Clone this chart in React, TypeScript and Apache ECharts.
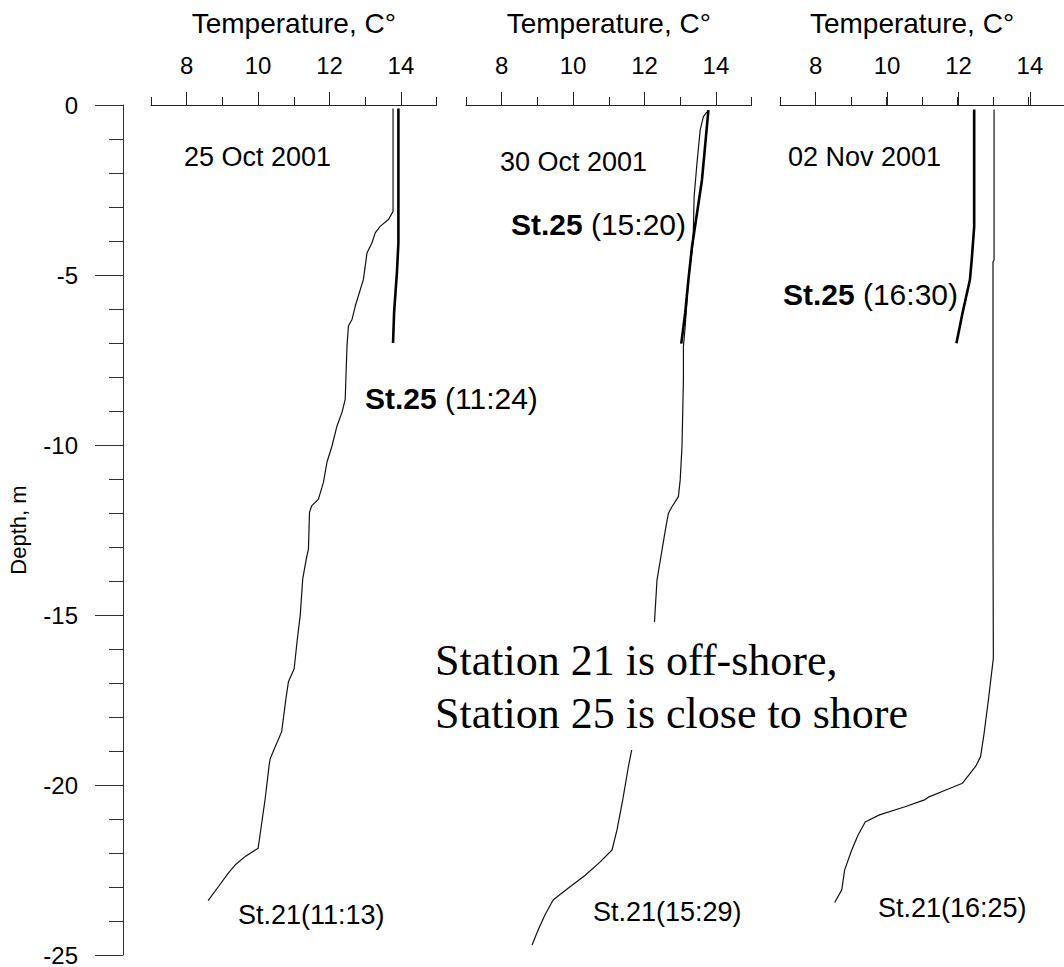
import React, { useEffect, useRef } from "react";
import * as echarts from "echarts";

// Tick values
const tempTickLabels = [8, 10, 12, 14];
const depthTickLabels = [0, -5, -10, -15, -20, -25];

// Panel titles / dates
const panelDates = ["25 Oct 2001", "30 Oct 2001", "02 Nov 2001"];

// 25 Oct 2001 — Station 21 (11:13)
const st21Oct25Temp = [13.78, 13.78, 13.65, 13.42, 13.28, 13.19, 13.05, 12.95, 12.72, 12.63, 12.53, 12.49, 12.44, 12.35, 12.21, 12.07, 11.93, 11.83, 11.69, 11.5, 11.44, 11.41, 11.35, 11.25, 11.18, 11.1, 11.01, 10.85, 10.78, 10.66, 10.34, 10.31, 10.2, 10.05, 10.0, 9.64, 9.38, 9.16, 8.88, 8.6];
const st21Oct25Depth = [-0.1, -3.13, -3.37, -3.57, -3.76, -4.05, -4.35, -5.13, -5.92, -6.31, -6.5, -7.09, -8.66, -9.04, -9.44, -10.03, -10.5, -11.1, -11.59, -11.79, -11.98, -13.06, -13.35, -13.94, -15.01, -15.7, -16.58, -16.96, -17.46, -18.43, -19.22, -19.41, -20.39, -21.5, -21.86, -22.1, -22.33, -22.6, -23.0, -23.4];

// 25 Oct 2001 — Station 25 (11:24)
const st25Oct25Temp = [13.93, 13.93, 13.89, 13.81, 13.78];
const st25Oct25Depth = [-0.1, -4.05, -4.9, -6.1, -7.0];

// 30 Oct 2001 — Station 21 (15:29)
const st21Oct30Temp = [13.75, 13.65, 13.56, 13.47, 13.39, 13.36, 13.23, 13.14, 13.09, 13.09, 13.05, 13.0, 12.95, 12.77, 12.67, 12.6, 12.49, 12.35, 12.28, 12.1, 11.85, 11.64, 11.55, 11.39, 11.23, 11.09, 10.76, 10.34, 9.86, 9.44, 9.21, 9.02, 8.85];
const st21Oct30Depth = [-0.2, -0.34, -0.73, -1.7, -2.69, -4.05, -5.13, -6.5, -7.09, -8.07, -10.03, -11.0, -11.49, -11.79, -11.98, -12.37, -13.06, -13.94, -15.16, -16.5, -17.8, -18.93, -19.41, -20.39, -21.27, -21.86, -22.21, -22.6, -22.98, -23.33, -23.77, -24.21, -24.65];

// 30 Oct 2001 — Station 25 (15:20)
const st25Oct30Temp = [13.79, 13.61, 13.33, 13.23, 13.14, 13.03];
const st25Oct30Depth = [-0.15, -2.2, -4.16, -5.13, -6.1, -7.0];

// 02 Nov 2001 — Station 21 (16:25)
const st21Nov02Temp = [13.03, 13.03, 13.0, 13.0, 13.01, 12.87, 12.75, 12.65, 12.51, 12.14, 11.67, 11.2, 11.07, 10.5, 9.8, 9.4, 9.2, 9.02, 8.82, 8.74, 8.54];
const st21Nov02Depth = [-0.13, -4.55, -4.6, -12.47, -16.23, -17.46, -18.43, -19.12, -19.41, -19.9, -20.1, -20.3, -20.39, -20.6, -20.83, -21.04, -21.42, -21.86, -22.45, -23.03, -23.4];

// 02 Nov 2001 — Station 25 (16:30)
const st25Nov02Temp = [12.47, 12.47, 12.4, 12.35, 12.14, 11.97];
const st25Nov02Depth = [-0.13, -3.57, -4.55, -5.13, -6.11, -6.99];

const zip = (t: number[], d: number[]) => t.map((v, i) => [v, d[i]]);

const SANS = 'Arial, "Liberation Sans", sans-serif';
const SERIF = '"Times New Roman", "Liberation Serif", serif';

const PX_PER_DEG = 35.7;
const PANEL_LEFT = [151, 466, 780];
const TOP = 105;
const HEIGHT = 852;

export default function App() {
  const ref = useRef<HTMLDivElement>(null);

  useEffect(() => {
    if (!ref.current) return;
    const chart = echarts.init(ref.current, undefined, { renderer: "svg" });

    const grids: any[] = [];
    const xAxes: any[] = [];
    const yAxes: any[] = [];

    PANEL_LEFT.forEach((left, p) => {
      // full-range grid (7..15) with the axis line and the short ticks
      grids.push({ left, top: TOP, width: PX_PER_DEG * 8, height: HEIGHT, containLabel: false });
      // labelled grid (8..14) with the long ticks
      grids.push({ left: left + PX_PER_DEG, top: TOP, width: PX_PER_DEG * 6, height: HEIGHT, containLabel: false });

      xAxes.push({
        gridIndex: p * 2,
        type: "value",
        position: "top",
        min: 7,
        max: 15,
        interval: 1,
        axisLine: { show: true, lineStyle: { color: "#222", width: 1 } },
        axisTick: { show: true, inside: false, length: 8, lineStyle: { color: "#222" } },
        axisLabel: { show: false },
        splitLine: { show: false },
        name: "Temperature, C°",
        nameLocation: "middle",
        nameGap: 68,
        nameTextStyle: { fontSize: 28, color: "#000", fontFamily: SANS, padding: p === 2 ? [0, 20, 0, 0] : 0 },
      });
      xAxes.push({
        gridIndex: p * 2 + 1,
        type: "value",
        position: "top",
        min: tempTickLabels[0],
        max: tempTickLabels[tempTickLabels.length - 1],
        interval: 2,
        axisLine: { show: false },
        axisTick: { show: true, inside: false, length: 13, lineStyle: { color: "#222" } },
        axisLabel: { show: true, fontSize: 24, color: "#000", fontFamily: SANS, margin: 28 },
        splitLine: { show: false },
      });

      yAxes.push({
        gridIndex: p * 2,
        type: "value",
        min: depthTickLabels[depthTickLabels.length - 1],
        max: depthTickLabels[0],
        interval: 5,
        position: "left",
        offset: 28,
        show: p === 0,
        axisLine: { show: true, lineStyle: { color: "#333", width: 1 } },
        axisTick: { show: true, inside: false, length: 28, lineStyle: { color: "#333" } },
        minorTick: { show: true, splitNumber: 5, length: 14, lineStyle: { color: "#333" } },
        axisLabel: { show: true, fontSize: 24, color: "#000", fontFamily: SANS, margin: 45 },
        splitLine: { show: false },
        minorSplitLine: { show: false },
        name: p === 0 ? "Depth, m" : "",
        nameLocation: "middle",
        nameGap: 94,
        nameTextStyle: { fontSize: 22, color: "#000", fontFamily: SANS },
      });
      yAxes.push({
        gridIndex: p * 2 + 1,
        type: "value",
        min: -25,
        max: 0,
        show: false,
      });
    });

    const thin = { color: "#111", width: 1.2 };
    const thick = { color: "#000", width: 2.6 };
    const mk = (name: string, t: number[], d: number[], panel: number, style: any) => ({
      name,
      type: "line",
      xAxisIndex: panel * 2,
      yAxisIndex: panel * 2,
      data: zip(t, d),
      showSymbol: false,
      symbol: "none",
      lineStyle: style,
      z: 3,
    });

    const series = [
      mk("St.21 25 Oct", st21Oct25Temp, st21Oct25Depth, 0, thin),
      mk("St.25 25 Oct", st25Oct25Temp, st25Oct25Depth, 0, thick),
      mk("St.21 30 Oct", st21Oct30Temp, st21Oct30Depth, 1, thin),
      mk("St.25 30 Oct", st25Oct30Temp, st25Oct30Depth, 1, thick),
      mk("St.21 02 Nov", st21Nov02Temp, st21Nov02Depth, 2, thin),
      mk("St.25 02 Nov", st25Nov02Temp, st25Nov02Depth, 2, thick),
    ];

    const txt = (text: string, x: number, y: number, align: string, size = 27) => ({
      type: "text",
      x,
      y,
      z: 100,
      style: {
        text,
        fontSize: size,
        fontFamily: SANS,
        fill: "#000",
        align,
        verticalAlign: "middle",
        rich: {
          b: { fontWeight: "bold", fontSize: size, fontFamily: SANS, fill: "#000" },
          n: { fontSize: size, fontFamily: SANS, fill: "#000" },
        },
      },
    });

    const graphic = [
      txt(panelDates[0], 184, 157, "left"),
      txt(panelDates[1], 500, 162, "left"),
      txt(panelDates[2], 788, 157, "left"),
      txt("{b|St.25} {n|(11:24)}", 365, 398, "left", 30),
      txt("{b|St.25} {n|(15:20)}", 686, 224, "right", 30),
      txt("{b|St.25} {n|(16:30)}", 958, 294, "right", 30),
      txt("St.21(11:13)", 238, 915, "left"),
      txt("St.21(15:29)", 593, 912, "left"),
      txt("St.21(16:25)", 878, 908, "left"),
      {
        type: "text",
        x: 429,
        y: 622,
        z: 100,
        style: {
          text: "Station 21 is off-shore,\nStation 25 is close to shore",
          fontSize: 44,
          fontFamily: SERIF,
          lineHeight: 53,
          fill: "#000",
          backgroundColor: "#fff",
          padding: [12, 6, 10, 6],
          align: "left",
          verticalAlign: "top",
        },
      },
    ];

    chart.setOption({
      animation: false,
      backgroundColor: "#fff",
      textStyle: { fontFamily: SANS },
      grid: grids,
      xAxis: xAxes,
      yAxis: yAxes,
      series,
      graphic,
    });

    return () => chart.dispose();
  }, []);

  return (
    <div
      ref={ref}
      style={{ position: "absolute", left: 0, top: 0, width: 1064, height: 967, background: "#fff" }}
    />
  );
}
